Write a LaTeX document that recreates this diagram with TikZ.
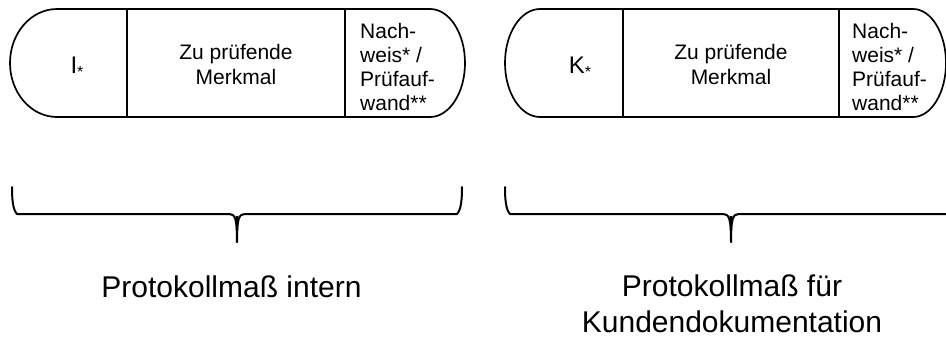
\documentclass[tikz,border=0pt]{standalone}
\usepackage{fontspec}
\setmainfont{Liberation Sans}
\begin{document}
\begin{tikzpicture}[x=1pt,y=-1pt,
  outline/.style={line width=1.7pt, line join=round},
  divider/.style={line width=2pt},
  bracepath/.style={line width=2pt, line join=round, line cap=round},
  lbl/.style={inner sep=0pt, font=\fontsize{21pt}{24pt}\selectfont},
  idlbl/.style={inner sep=0pt, font=\fontsize{24pt}{28pt}\selectfont},
  biglbl/.style={inner sep=0pt, font=\fontsize{30pt}{36pt}\selectfont}]
\useasboundingbox (0,0) rectangle (946,340);
\newcommand{\lowstar}{\raisebox{-4.5pt}{\fontsize{16pt}{16pt}\selectfont *}}
% ---------- left capsule ----------
\draw[outline] (57,9) -- (430,9) arc[start angle=90, end angle=-90, x radius=35pt, y radius=54pt]
  -- (57,117) arc[start angle=270, end angle=90, x radius=47pt, y radius=54pt] -- cycle;
\draw[divider] (127,9) -- (127,117);
\draw[divider] (345,9) -- (345,117);
\node[idlbl, anchor=base] (i) at (77,73) {I\lowstar};
\node[lbl, align=center, font=\fontsize{21pt}{25pt}\selectfont] (m1) at (236,64) {Zu prüfende\\Merkmal};
\node[lbl, align=left, anchor=north west] (n1) at (360,23) {Nach-\\weis* /\\Prüfauf-\\wand**};
% ---------- right capsule ----------
\draw[outline] (540,9) -- (913,9) arc[start angle=90, end angle=-90, x radius=33pt, y radius=54pt]
  -- (540,117) arc[start angle=270, end angle=90, x radius=35pt, y radius=54pt] -- cycle;
\draw[divider] (623,9) -- (623,117);
\draw[divider] (839,9) -- (839,117);
\node[idlbl, anchor=base] (k) at (580,73) {K\lowstar};
\node[lbl, align=center, font=\fontsize{21pt}{25pt}\selectfont] (m2) at (731,64) {Zu prüfende\\Merkmal};
\node[lbl, align=left, anchor=north west] (n2) at (852,23) {Nach-\\weis* /\\Prüfauf-\\wand**};
% ---------- braces ----------
\coordinate (b1l) at (12,187);
\coordinate (b1r) at (462,187);
\coordinate (b1t) at (237,242);
\draw[bracepath] (b1l) .. controls (12,200) and (13,210) .. (17,214) -- (229,214)
  .. controls (235,214) and (237,218) .. (b1t);
\draw[bracepath] (b1r) .. controls (462,200) and (461,210) .. (457,214) -- (245,214)
  .. controls (239,214) and (237,218) .. (b1t);
\fill (235.5,216) -- (238.5,216) -- (237.6,242) -- (236.4,242) -- cycle;
\coordinate (b2l) at (505,187);
\coordinate (b2r) at (950,214);
\coordinate (b2t) at (731,242);
\draw[bracepath] (b2l) .. controls (505,200) and (506,210) .. (510,214) -- (723,214)
  .. controls (729,214) and (731,218) .. (b2t);
\draw[bracepath] (b2r) -- (739,214)
  .. controls (733,214) and (731,218) .. (b2t);
\fill (729.5,216) -- (732.5,216) -- (731.6,242) -- (730.4,242) -- cycle;
% ---------- captions ----------
\node[biglbl, anchor=base] (c1) at (231.5,297) {Protokollmaß intern};
\node[biglbl, align=center, anchor=north] (c2) at (732,275) {Protokollmaß für\\Kundendokumentation};
\end{tikzpicture}
\end{document}
